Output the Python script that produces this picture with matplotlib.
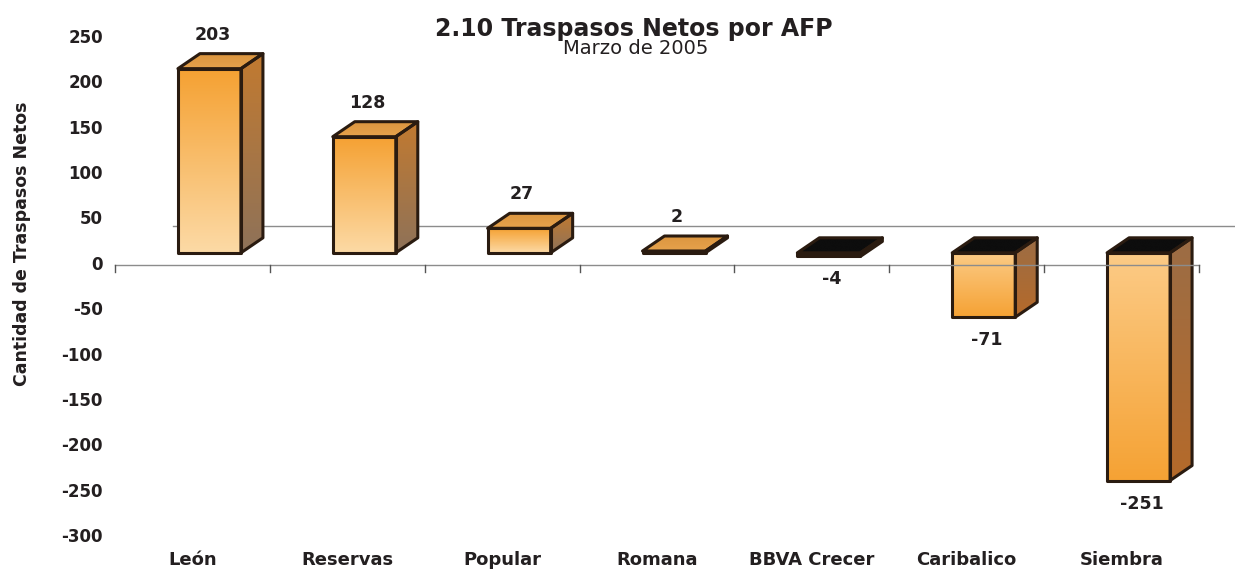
import numpy as np
import matplotlib.pyplot as plt
from matplotlib.patches import Polygon
from matplotlib.colors import to_rgb

# datos del gráfico
afps = ['León', 'Reservas', 'Popular', 'Romana', 'BBVA Crecer', 'Caribalico', 'Siembra']
traspasos = [203, 128, 27, 2, -4, -71, -251]
y_ticks = list(range(-300, 251, 50))

titulo = '2.10 Traspasos Netos por AFP'
subtitulo = 'Marzo de 2005'
eje_y = 'Cantidad de Traspasos Netos'

W, H = 1235, 574
TXT = '#231f20'
plt.rcParams['font.family'] = ['DejaVu Sans']

fig = plt.figure(figsize=(W / 100, H / 100), dpi=100)
ax = fig.add_axes([115 / W, 37 / H, 1084 / W, 499 / H])
ax.set_xlim(-0.5, len(afps) - 0.5)
ax.set_ylim(-300, 250)
ax.axis('off')

# pixeles -> unidades de datos
px_x = len(afps) / 1084
px_y = 550 / 499

# efecto 3D (en pixeles)
shift_x, shift_y = 17 * px_x, 12 * px_y      # desplazamiento de la barra hacia el fondo
depth_x, depth_y = 22 * px_x, 15 * px_y      # profundidad de la barra
floor_x, floor_y = 58 * px_x, 39 * px_y      # profundidad del piso
bar_w = 63 * px_x
edge = '#2a1b10'


def gradient_face(verts, c_bottom, c_top, z):
    poly = Polygon(verts, closed=True, facecolor='none', edgecolor='none')
    ax.add_patch(poly)
    xs = [p[0] for p in verts]
    ys = [p[1] for p in verts]
    t = np.linspace(0, 1, 128)[:, None]
    c0, c1 = np.array(to_rgb(c_bottom)), np.array(to_rgb(c_top))
    img = (c0 + (c1 - c0) * t)[:, None, :]
    im = ax.imshow(img, extent=[min(xs), max(xs), min(ys), max(ys)], origin='lower',
                   aspect='auto', interpolation='bilinear', zorder=z)
    im.set_clip_path(poly)
    ax.add_patch(Polygon(verts, closed=True, facecolor='none', edgecolor=edge,
                         linewidth=2.2, joinstyle='round', zorder=z + 0.5))


# linea del fondo del piso
ax.plot([-0.5 + floor_x, len(afps) - 0.5 + floor_x], [floor_y, floor_y],
        color='#8c8c8c', lw=1, zorder=1, clip_on=False)

for i, (nombre, v) in enumerate(zip(afps, traspasos)):
    x0 = i + shift_x - bar_w / 2
    x1 = x0 + bar_w
    top = max(v, 0) + shift_y
    bot = min(v, 0) + shift_y
    z = 3 + i
    front = [(x0, bot), (x1, bot), (x1, top), (x0, top)]
    side = [(x1, bot), (x1 + depth_x, bot + depth_y), (x1 + depth_x, top + depth_y), (x1, top)]
    cap = [(x0, top), (x1, top), (x1 + depth_x, top + depth_y), (x0 + depth_x, top + depth_y)]
    if v >= 0:
        gradient_face(front, '#fcdaa6', '#f5a132', z)
        gradient_face(side, '#8e7259', '#c27a30', z)
        gradient_face(cap, '#e6a24c', '#dc9640', z)
        ax.text(i + shift_x + 3 * px_x, v + shift_y + depth_y + 19 * px_y, str(v),
                ha='center', va='center', fontsize=12.5, fontweight='bold', color=TXT)
    else:
        gradient_face(front, '#f5a234', '#fccb86', z)
        gradient_face(side, '#b56a2a', '#9c6d45', z)
        gradient_face(cap, '#0d0d0d', '#0d0d0d', z)
        ax.text(i + shift_x + 3 * px_x, v + shift_y - 23 * px_y, str(v),
                ha='center', va='center', fontsize=12.5, fontweight='bold', color=TXT)

# eje frontal con marcas
ax.plot([-0.5, len(afps) - 0.5], [0, 0], color='#8c8c8c', lw=1, zorder=20, clip_on=False)
for b in np.arange(-0.5, len(afps)):
    ax.plot([b, b], [0, -7 * px_y], color='#555555', lw=1, zorder=20, clip_on=False)

# etiquetas
for t in y_ticks:
    ax.text(-0.5 - 12 * px_x, t, str(t), ha='right', va='center',
            fontsize=12, fontweight='bold', color=TXT, clip_on=False)
for i, nombre in enumerate(afps):
    ax.text(i, 250 - 522 * px_y, nombre, ha='center', va='center',
            fontsize=13, fontweight='bold', color=TXT, clip_on=False)

ax.set_xlim(-0.5, len(afps) - 0.5)
ax.set_ylim(-300, 250)

fig.text(634 / W, 1 - 29 / H, titulo, ha='center', va='center',
         fontsize=17, fontweight='bold', color=TXT)
fig.text(636 / W, 1 - 49 / H, subtitulo, ha='center', va='center',
         fontsize=14, color=TXT)
fig.text(22 / W, 1 - 244 / H, eje_y, ha='center', va='center', rotation=90,
         fontsize=12.5, fontweight='bold', color=TXT)

fig.savefig('out.png', dpi=100, facecolor='white')
